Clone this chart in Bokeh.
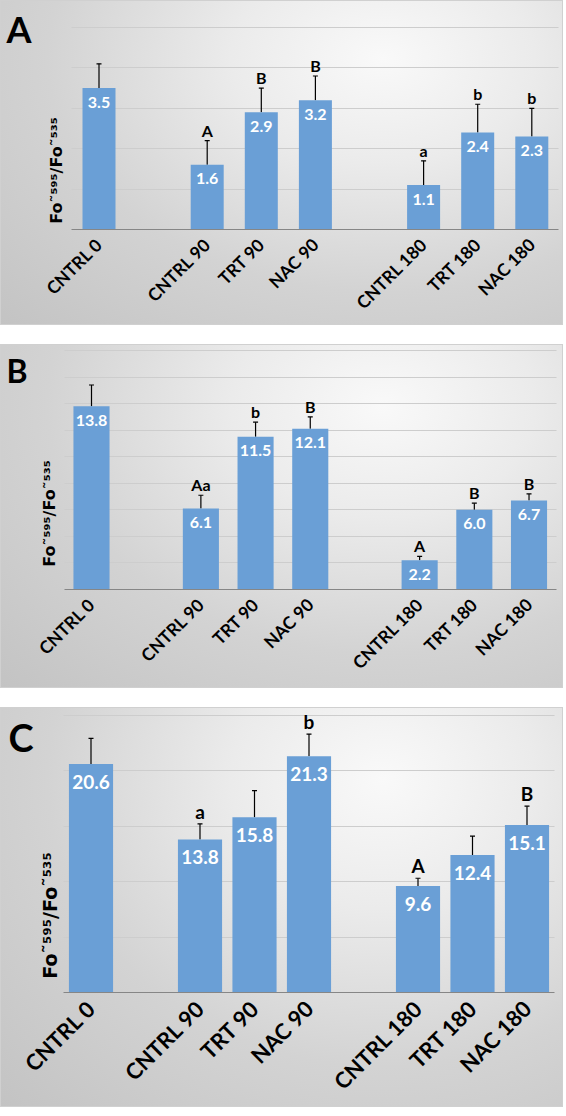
import math
from bokeh.plotting import figure
from bokeh.models import (ColumnDataSource, Range1d, SingleIntervalTicker, FixedTicker,
                          Whisker, TeeHead, Label)
from bokeh.layouts import column
from bokeh.core.properties import value
from bokeh.embed import file_html
from bokeh.resources import INLINE

# ---------------- data ----------------
categories = ["CNTRL 0", "CNTRL 90", "TRT 90", "NAC 90", "CNTRL 180", "TRT 180", "NAC 180"]
group_sizes = [1, 3, 3]  # time points 0, 90, 180

a_values = [3.5, 1.6, 2.9, 3.2, 1.1, 2.4, 2.3]
a_errors = [0.6, 0.6, 0.6, 0.6, 0.6, 0.7, 0.7]
a_letters = ["", "A", "B", "B", "a", "b", "b"]

b_values = [13.8, 6.1, 11.5, 12.1, 2.2, 6.0, 6.7]
b_errors = [1.6, 1.0, 1.1, 0.9, 0.3, 0.5, 0.5]
b_letters = ["", "Aa", "b", "B", "A", "B", "B"]

c_values = [20.6, 13.8, 15.8, 21.3, 9.6, 12.4, 15.1]
c_errors = [2.3, 1.4, 2.4, 2.0, 0.7, 1.7, 1.7]
c_letters = ["", "a", "", "b", "A", "", "B"]

y_label = "Fo˜⁵⁹⁵/Fo˜⁵³⁵"
panel_names = ["A", "B", "C"]

# ---------------- layout helpers ----------------
FONT = "Lato"
LABEL_FONT = "DejaVu Sans"
BAR = "#6a9fd6"
GRADIENT = ("radial-gradient(ellipse at 68% 18%, #f9f9f9 0%, #ebebeb 28%, "
            "#d3d3d3 62%, #c3c3c3 100%)")
FIG_W = 563

# slot index of every category: one empty slot between time points
positions = []
slot = 0
for g, n in enumerate(group_sizes):
    if g > 0:
        slot += 1
    for _ in range(n):
        positions.append(slot)
        slot += 1
n_slots = slot
label_map = {pos: cat for pos, cat in zip(positions, categories)}


def make_panel(name, values, errors, letters, top_grid, interval, height, frame_h,
               px_slot, first_px, bar_w,
               xlab_size, val_size, let_size, ylab_size, name_size,
               val_off, ylab_pos, name_pos):
    src = ColumnDataSource(dict(
        pos=positions,
        val=values,
        top=[v + e for v, e in zip(values, errors)],
        val_txt=[f"{v:.1f}" for v in values],
        letter=letters,
    ))
    x0 = -first_px / px_slot
    x1 = (FIG_W - first_px) / px_slot
    px_unit = (frame_h - ylab_pos[2]) / top_grid
    y_max = frame_h / px_unit
    p = figure(width=FIG_W, height=height, x_range=Range1d(x0, x1),
               y_range=Range1d(0, y_max), output_backend="svg", toolbar_location=None,
               min_border_left=0, min_border_right=0, min_border_top=0,
               min_border_bottom=height - frame_h)
    p.background_fill_color = None
    p.border_fill_color = None
    p.outline_line_color = None
    p.styles = {"background": GRADIENT, "box-shadow": "inset 0 0 0 1px #d0d0d0"}

    t = SingleIntervalTicker(interval=interval)
    p.yaxis.ticker = t
    p.yaxis.visible = False
    p.xgrid.grid_line_color = None
    g = p.ygrid[0]
    g.ticker = t
    if "cross_bounds" in g.properties():
        g.cross_bounds = (-0.5, n_slots - 0.5)
        g.grid_line_color = "#cdcdcd"
        g.bounds = (interval, top_grid)
    else:
        g.visible = False
        ys = list(range(interval, top_grid + 1, interval))
        p.segment(x0=-0.5, x1=n_slots - 0.5, y0=ys, y1=ys, line_color="#cdcdcd", line_width=1)

    ax = p.xaxis[0]
    ax.ticker = FixedTicker(ticks=positions)
    ax.major_label_overrides = label_map
    ax.bounds = (-0.5, n_slots - 0.5)
    ax.axis_line_color = "#868686"
    ax.axis_line_width = 1.2
    ax.major_tick_line_color = None
    ax.minor_tick_line_color = None
    ax.major_label_orientation = math.pi / 4
    ax.major_label_text_font = FONT
    ax.major_label_text_font_style = "bold"
    ax.major_label_text_font_size = xlab_size
    ax.major_label_text_color = "black"
    ax.major_label_standoff = 6

    p.vbar(x="pos", top="val", width=bar_w, source=src, fill_color=BAR, line_color=None)

    w = Whisker(source=src, base="pos", lower="val", upper="top", dimension="height",
                line_color="black", line_width=1.2,
                upper_head=TeeHead(size=5, line_color="black", line_width=1.2),
                lower_head=None)
    p.add_layout(w)

    p.text(x="pos", y="val", text="val_txt", source=src, text_color="white",
           text_font=value(FONT), text_font_style="bold", text_font_size=val_size,
           text_align="center", text_baseline="middle", y_offset=val_off)
    p.text(x="pos", y="top", text="letter", source=src, text_color="black",
           text_font=value(FONT), text_font_style="bold", text_font_size=let_size,
           text_align="center", text_baseline="bottom", y_offset=-1)

    p.add_layout(Label(x=ylab_pos[0], y=ylab_pos[1], x_units="screen", y_units="screen",
                       text=y_label, angle=math.pi / 2, text_align="center",
                       text_baseline="middle", text_font=LABEL_FONT, text_font_style="bold",
                       text_font_size=ylab_size, text_color="black"))
    p.add_layout(Label(x=name_pos[0], y=name_pos[1], x_units="screen", y_units="screen",
                       text=name, text_align="left", text_baseline="middle",
                       text_font=FONT, text_font_style="bold",
                       text_font_size=name_size, text_color="black"))
    return p


# frame spans from the top of each panel down to its baseline
pa = make_panel(panel_names[0], a_values, a_errors, a_letters, 5, 1, 325, 229,
                54.1, 98.5, 0.61,
                "17.5px", "16px", "16px", "16px", "36px",
                14, (56, 59, 27), (6, 201))
pb = make_panel(panel_names[1], b_values, b_errors, b_letters, 18, 2, 344, 245,
                54.69, 91.0, 0.66,
                "17.5px", "16px", "16px", "16px", "32px",
                14, (49, 76, 6), (6, 219))
pc = make_panel(panel_names[2], c_values, c_errors, c_letters, 25, 5, 400, 297,
                54.5, 90.5, 0.81,
                "22px", "19px", "19px", "19px", "38px",
                18, (49, 77, 8), (8, 256))

layout = column(pa, pb, pc, spacing=19)
open("out.html", "w").write(file_html(layout, INLINE))
